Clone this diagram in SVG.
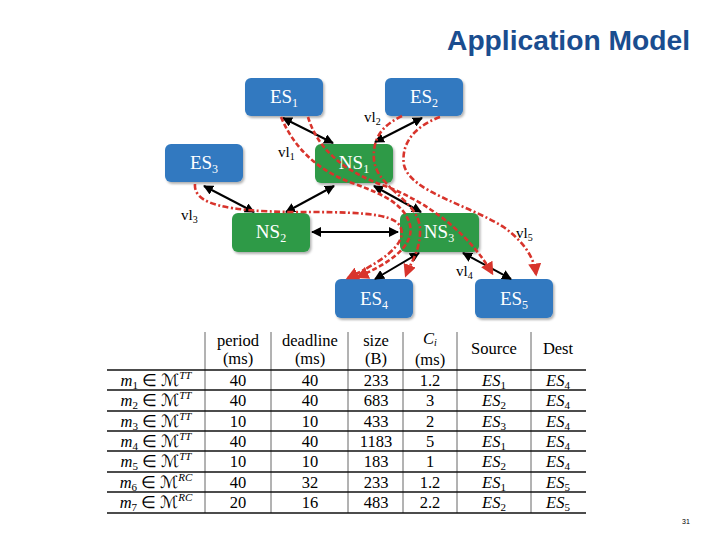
<svg xmlns="http://www.w3.org/2000/svg" width="720" height="540" viewBox="0 0 720 540">
<style>
.title{font-family:"Liberation Sans",Arial,sans-serif;font-weight:bold;font-size:28px;fill:#1a4d8f}
.blue{fill:#3079c0}
.green{fill:#2e9a47}
.nt{font-family:"Liberation Serif","Times New Roman",serif;font-size:19px;fill:#ffffff;text-anchor:middle}
.sub{font-size:12px}
.lnk{stroke:#000;stroke-width:2;fill:none;marker-start:url(#ah);marker-end:url(#ah)}
.vl{stroke:#d8342c;stroke-width:2.6;fill:none;stroke-dasharray:5 2.5;marker-end:url(#rh)}
.vl2{stroke-dasharray:6 2.5 2 2.5}
.lbl{font-family:"Liberation Serif","Times New Roman",serif;font-size:15px;fill:#000}
.tt{font-family:"Liberation Serif","Times New Roman",serif;font-size:16.5px;fill:#000;text-anchor:middle}
.it{font-style:italic}
.hl{stroke:#111;stroke-width:1.5}
.vln{stroke:#666;stroke-width:1}
</style>
<defs>
<filter id="sh" x="-10%" y="-10%" width="130%" height="140%">
<feDropShadow dx="1.5" dy="2" stdDeviation="1" flood-color="#000" flood-opacity="0.3"/>
</filter>
<marker id="ah" viewBox="0 0 10 10" refX="9" refY="5" markerWidth="5" markerHeight="5" orient="auto-start-reverse" markerUnits="strokeWidth">
<path d="M0,0 L10,5 L0,10 z" fill="#000"/>
</marker>
<marker id="rh" viewBox="0 0 10 10" refX="8" refY="5" markerWidth="5" markerHeight="5" orient="auto" markerUnits="strokeWidth">
<path d="M0,0 L10,5 L0,10 z" fill="#d8342c"/>
</marker>
</defs>
<rect width="720" height="540" fill="#ffffff"/>
<text class="title" x="690" y="50" text-anchor="end" textLength="243" lengthAdjust="spacingAndGlyphs">Application Model</text>

<g id="ES1"><rect class="blue" filter="url(#sh)" x="245" y="78" width="78" height="38" rx="6"/><text class="nt" x="284" y="103">ES<tspan class="sub" dy="4">1</tspan></text></g>
<g id="ES2"><rect class="blue" filter="url(#sh)" x="385" y="78" width="78" height="38" rx="6"/><text class="nt" x="424" y="103">ES<tspan class="sub" dy="4">2</tspan></text></g>
<g id="ES3"><rect class="blue" filter="url(#sh)" x="165" y="144" width="78" height="38" rx="6"/><text class="nt" x="204" y="169">ES<tspan class="sub" dy="4">3</tspan></text></g>
<g id="NS1"><rect class="green" filter="url(#sh)" x="315" y="144" width="78" height="39" rx="6"/><text class="nt" x="354" y="169">NS<tspan class="sub" dy="4">1</tspan></text></g>
<g id="NS2"><rect class="green" filter="url(#sh)" x="232" y="213" width="78" height="39" rx="6"/><text class="nt" x="271" y="238">NS<tspan class="sub" dy="4">2</tspan></text></g>
<g id="NS3"><rect class="green" filter="url(#sh)" x="400" y="213" width="79" height="39" rx="6"/><text class="nt" x="439" y="238">NS<tspan class="sub" dy="4">3</tspan></text></g>
<g id="ES4"><rect class="blue" filter="url(#sh)" x="335" y="279" width="78" height="39" rx="6"/><text class="nt" x="374" y="305">ES<tspan class="sub" dy="4">4</tspan></text></g>
<g id="ES5"><rect class="blue" filter="url(#sh)" x="475" y="279" width="78" height="39" rx="6"/><text class="nt" x="514" y="305">ES<tspan class="sub" dy="4">5</tspan></text></g>

<g id="connectors">
<path class="lnk" d="M283,118 L333,143"/>
<path class="lnk" d="M422,118 L375,142"/>
<path class="lnk" d="M204,186 L254,212"/>
<path class="lnk" d="M334,186 L286,212"/>
<path class="lnk" d="M374,186 L421,212"/>
<path class="lnk" d="M312,232 L398,232"/>
<path class="lnk" d="M419,253 L375,279"/>
<path class="lnk" d="M463,253 L511,279"/>
<path class="vl" d="M281,117 C295,150 320,172 355,184 C385,195 405,205 410,225 C415,248 385,265 358,277"/>
<path class="vl" d="M308,117 C318,150 345,172 385,186 C430,203 470,235 492,273"/>
<path class="vl vl2" d="M402,116 C385,124 372,136 374,160 C377,188 418,200 420,228 C421,250 411,262 406,275"/>
<path class="vl vl2" d="M440,117 C420,124 400,140 404,165 C410,192 470,205 505,228 C525,243 534,258 536,274"/>
<path class="vl vl2" d="M195,184 C193,205 230,211 290,212 C350,212 392,212 400,226 C410,245 375,265 348,278"/>
</g>

<g id="labels">
<text class="lbl" x="278" y="157">vl<tspan font-size="10" dy="3">1</tspan></text>
<text class="lbl" x="364" y="122">vl<tspan font-size="10" dy="3">2</tspan></text>
<text class="lbl" x="181" y="220">vl<tspan font-size="10" dy="3">3</tspan></text>
<text class="lbl" x="456" y="276">vl<tspan font-size="10" dy="3">4</tspan></text>
<text class="lbl" x="516" y="238">vl<tspan font-size="10" dy="3">5</tspan></text>
</g>

<g id="table">
<line class="vln" x1="205" y1="332" x2="205" y2="513"/>
<line class="vln" x1="271" y1="332" x2="271" y2="513"/>
<line class="vln" x1="348" y1="332" x2="348" y2="513"/>
<line class="vln" x1="403" y1="332" x2="403" y2="513"/>
<line class="vln" x1="457" y1="332" x2="457" y2="513"/>
<line class="vln" x1="531" y1="332" x2="531" y2="513"/>
<line class="hl" x1="107" y1="370" x2="586" y2="370"/>
<line class="hl" x1="107" y1="390" x2="586" y2="390"/>
<line class="hl" x1="107" y1="411" x2="586" y2="411"/>
<line class="hl" x1="107" y1="431" x2="586" y2="431"/>
<line class="hl" x1="107" y1="451" x2="586" y2="451"/>
<line class="hl" x1="107" y1="472" x2="586" y2="472"/>
<line class="hl" x1="107" y1="492" x2="586" y2="492"/>
<line class="hl" x1="107" y1="513" x2="586" y2="513"/>

<text class="tt" x="238" y="346">period</text><text class="tt" x="238" y="364">(ms)</text>
<text class="tt" x="310" y="346">deadline</text><text class="tt" x="310" y="364">(ms)</text>
<text class="tt" x="376" y="346">size</text><text class="tt" x="376" y="364">(B)</text>
<text class="tt" x="430" y="344"><tspan class="it">C</tspan><tspan class="it" font-size="10" dy="2">i</tspan></text><text class="tt" x="430" y="365">(ms)</text>
<text class="tt" x="494" y="354">Source</text>
<text class="tt" x="558" y="354">Dest</text>

<text class="tt" x="156" y="386"><tspan class="it">m</tspan><tspan font-size="11" dy="3">1</tspan><tspan dy="-3"> ∈ ℳ</tspan><tspan class="it" font-size="11" dy="-7">TT</tspan></text>
<text class="tt" x="156" y="406"><tspan class="it">m</tspan><tspan font-size="11" dy="3">2</tspan><tspan dy="-3"> ∈ ℳ</tspan><tspan class="it" font-size="11" dy="-7">TT</tspan></text>
<text class="tt" x="156" y="427"><tspan class="it">m</tspan><tspan font-size="11" dy="3">3</tspan><tspan dy="-3"> ∈ ℳ</tspan><tspan class="it" font-size="11" dy="-7">TT</tspan></text>
<text class="tt" x="156" y="447"><tspan class="it">m</tspan><tspan font-size="11" dy="3">4</tspan><tspan dy="-3"> ∈ ℳ</tspan><tspan class="it" font-size="11" dy="-7">TT</tspan></text>
<text class="tt" x="156" y="467"><tspan class="it">m</tspan><tspan font-size="11" dy="3">5</tspan><tspan dy="-3"> ∈ ℳ</tspan><tspan class="it" font-size="11" dy="-7">TT</tspan></text>
<text class="tt" x="156" y="488"><tspan class="it">m</tspan><tspan font-size="11" dy="3">6</tspan><tspan dy="-3"> ∈ ℳ</tspan><tspan class="it" font-size="11" dy="-7">RC</tspan></text>
<text class="tt" x="156" y="508"><tspan class="it">m</tspan><tspan font-size="11" dy="3">7</tspan><tspan dy="-3"> ∈ ℳ</tspan><tspan class="it" font-size="11" dy="-7">RC</tspan></text>

<text class="tt" x="238" y="386">40</text><text class="tt" x="310" y="386">40</text><text class="tt" x="376" y="386">233</text><text class="tt" x="430" y="386">1.2</text>
<text class="tt" x="238" y="406">40</text><text class="tt" x="310" y="406">40</text><text class="tt" x="376" y="406">683</text><text class="tt" x="430" y="406">3</text>
<text class="tt" x="238" y="427">10</text><text class="tt" x="310" y="427">10</text><text class="tt" x="376" y="427">433</text><text class="tt" x="430" y="427">2</text>
<text class="tt" x="238" y="447">40</text><text class="tt" x="310" y="447">40</text><text class="tt" x="376" y="447">1183</text><text class="tt" x="430" y="447">5</text>
<text class="tt" x="238" y="467">10</text><text class="tt" x="310" y="467">10</text><text class="tt" x="376" y="467">183</text><text class="tt" x="430" y="467">1</text>
<text class="tt" x="238" y="488">40</text><text class="tt" x="310" y="488">32</text><text class="tt" x="376" y="488">233</text><text class="tt" x="430" y="488">1.2</text>
<text class="tt" x="238" y="508">20</text><text class="tt" x="310" y="508">16</text><text class="tt" x="376" y="508">483</text><text class="tt" x="430" y="508">2.2</text>

<text class="tt" x="494" y="386"><tspan class="it">ES</tspan><tspan font-size="11" dy="3">1</tspan></text><text class="tt" x="558" y="386"><tspan class="it">ES</tspan><tspan font-size="11" dy="3">4</tspan></text>
<text class="tt" x="494" y="406"><tspan class="it">ES</tspan><tspan font-size="11" dy="3">2</tspan></text><text class="tt" x="558" y="406"><tspan class="it">ES</tspan><tspan font-size="11" dy="3">4</tspan></text>
<text class="tt" x="494" y="427"><tspan class="it">ES</tspan><tspan font-size="11" dy="3">3</tspan></text><text class="tt" x="558" y="427"><tspan class="it">ES</tspan><tspan font-size="11" dy="3">4</tspan></text>
<text class="tt" x="494" y="447"><tspan class="it">ES</tspan><tspan font-size="11" dy="3">1</tspan></text><text class="tt" x="558" y="447"><tspan class="it">ES</tspan><tspan font-size="11" dy="3">4</tspan></text>
<text class="tt" x="494" y="467"><tspan class="it">ES</tspan><tspan font-size="11" dy="3">2</tspan></text><text class="tt" x="558" y="467"><tspan class="it">ES</tspan><tspan font-size="11" dy="3">4</tspan></text>
<text class="tt" x="494" y="488"><tspan class="it">ES</tspan><tspan font-size="11" dy="3">1</tspan></text><text class="tt" x="558" y="488"><tspan class="it">ES</tspan><tspan font-size="11" dy="3">5</tspan></text>
<text class="tt" x="494" y="508"><tspan class="it">ES</tspan><tspan font-size="11" dy="3">2</tspan></text><text class="tt" x="558" y="508"><tspan class="it">ES</tspan><tspan font-size="11" dy="3">5</tspan></text>
</g>

<text x="686" y="524" font-family="Liberation Sans,Arial,sans-serif" font-size="7" fill="#000" text-anchor="middle">31</text>
</svg>
